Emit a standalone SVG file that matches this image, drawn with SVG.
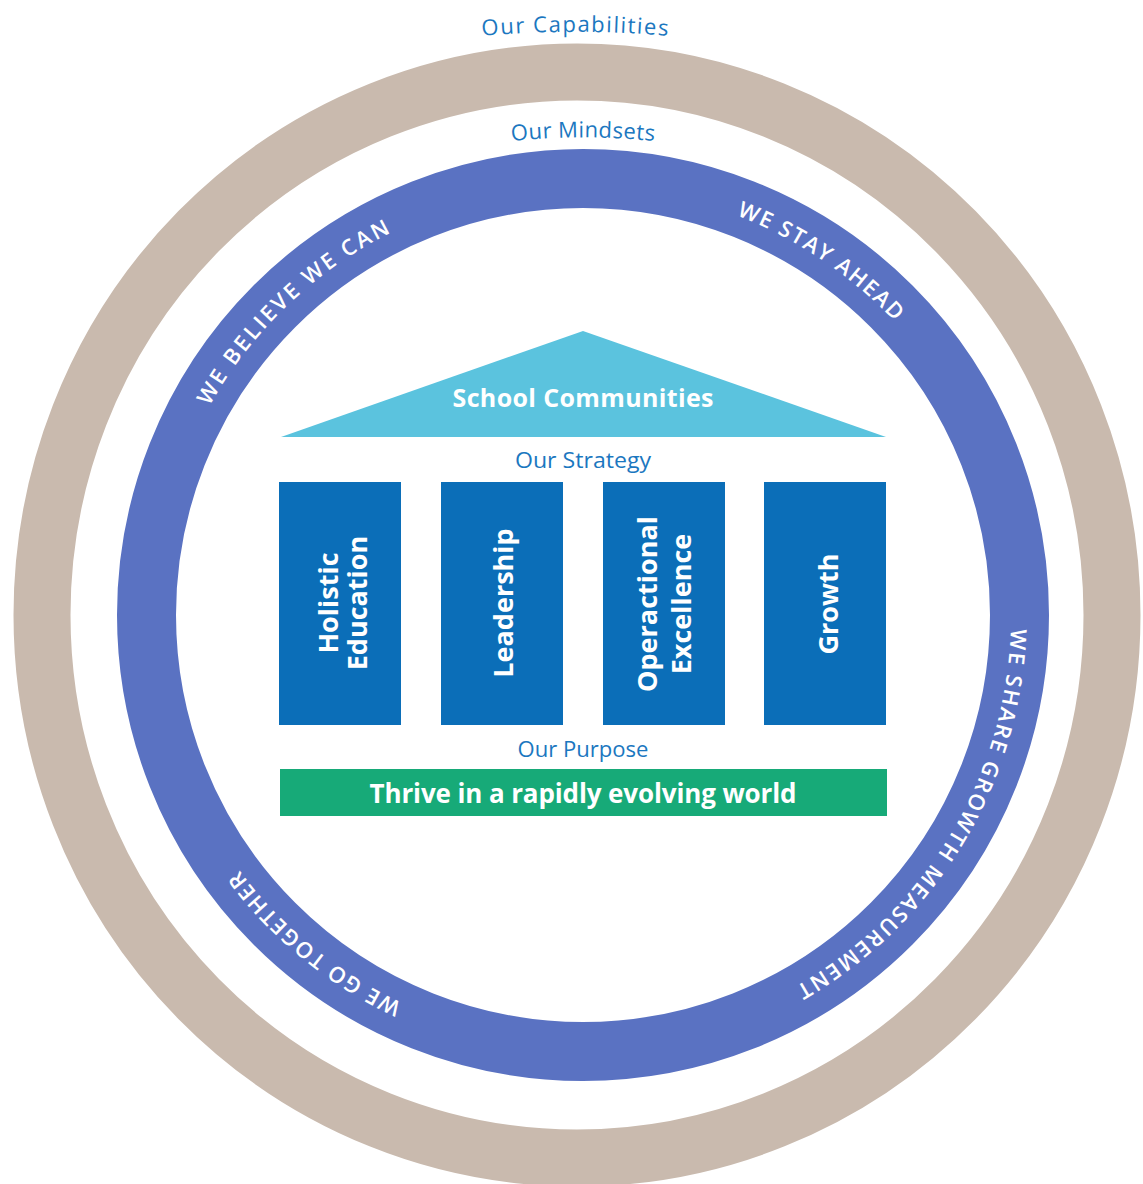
<svg xmlns="http://www.w3.org/2000/svg" width="1143" height="1184" viewBox="0 0 1143 1184">
<style>
.lbl{font-family:"Open Sans","Liberation Sans",sans-serif;font-size:22px;fill:#1B77C0;}
.ring{font-family:"Open Sans","Liberation Sans",sans-serif;font-size:22px;font-weight:600;fill:#FFFFFF;}
.pil{fill:#0B6EB8;}
.ptxt{font-family:"Open Sans","Liberation Sans",sans-serif;font-size:27px;font-weight:700;fill:#FFFFFF;}
.wbold{font-family:"Open Sans","Liberation Sans",sans-serif;font-weight:700;fill:#FFFFFF;}
</style>
<defs>
<path id="ringPath" d="M583,187 A428,428 0 1 1 583,1043 A428,428 0 1 1 583,187"/>
<path id="capPath" d="M375,50.5 A1081,1081 0 0 1 775,50.5"/>
<path id="mindPath" d="M383,166.6 A700,700 0 0 1 783,166.6"/>
</defs>
<rect width="1143" height="1184" fill="#FFFFFF"/>
<g id="capabilities-ring">
<ellipse cx="577" cy="615" rx="535" ry="543" fill="none" stroke="#C9BAAE" stroke-width="57"/>
<text class="lbl" font-size="24"><textPath href="#capPath" startOffset="50%" text-anchor="middle" textLength="186" lengthAdjust="spacing">Our Capabilities</textPath></text>
</g>
<g id="mindsets-ring">
<circle cx="583" cy="615" r="436.5" fill="none" stroke="#5A72C2" stroke-width="59"/>
<text class="lbl"><textPath href="#mindPath" startOffset="50%" text-anchor="middle" textLength="143" lengthAdjust="spacing">Our Mindsets</textPath></text>
<text class="ring"><textPath href="#ringPath" startOffset="2362" text-anchor="middle" textLength="255" lengthAdjust="spacing">WE BELIEVE WE CAN</textPath></text>
<text class="ring"><textPath href="#ringPath" startOffset="253" text-anchor="middle" textLength="192" lengthAdjust="spacing">WE STAY AHEAD</textPath></text>
<text class="ring"><textPath href="#ringPath" startOffset="904" text-anchor="middle" textLength="436" lengthAdjust="spacing">WE SHARE GROWTH MEASUREMENT</textPath></text>
<text class="ring"><textPath href="#ringPath" startOffset="1637" text-anchor="middle" textLength="212" lengthAdjust="spacing">WE GO TOGETHER</textPath></text>
</g>
<g id="school-communities">
<polygon points="281,437 583,331 886,437" fill="#5BC3DE"/>
<text class="wbold" x="583" y="407" font-size="25" text-anchor="middle" textLength="261" lengthAdjust="spacing">School Communities</text>
</g>
<g id="strategy-label">
<text class="lbl" x="583" y="468" font-size="21" text-anchor="middle" textLength="136" lengthAdjust="spacingAndGlyphs">Our Strategy</text>
</g>
<g id="pillar-holistic">
<rect class="pil" x="279" y="482" width="122" height="243"/>
<text class="ptxt" transform="translate(338,603) rotate(-90)" text-anchor="middle">Holistic</text>
<text class="ptxt" transform="translate(367,603) rotate(-90)" text-anchor="middle">Education</text>
</g>
<g id="pillar-leadership">
<rect class="pil" x="441" y="482" width="122" height="243"/>
<text class="ptxt" transform="translate(513,603) rotate(-90)" text-anchor="middle">Leadership</text>
</g>
<g id="pillar-operational">
<rect class="pil" x="603" y="482" width="122" height="243"/>
<text class="ptxt" transform="translate(657,604) rotate(-90)" text-anchor="middle">Operactional</text>
<text class="ptxt" transform="translate(691,604) rotate(-90)" text-anchor="middle">Excellence</text>
</g>
<g id="pillar-growth">
<rect class="pil" x="764" y="482" width="122" height="243"/>
<text class="ptxt" transform="translate(838,604) rotate(-90)" text-anchor="middle">Growth</text>
</g>
<g id="purpose-label">
<text class="lbl" x="583" y="757" font-size="21" text-anchor="middle" textLength="131" lengthAdjust="spacingAndGlyphs">Our Purpose</text>
</g>
<g id="purpose">
<rect x="280" y="769" width="607" height="47" fill="#17AA78"/>
<text class="wbold" x="583" y="803" font-size="26" text-anchor="middle" textLength="427" lengthAdjust="spacing">Thrive in a rapidly evolving world</text>
</g>
<g id="connectors"></g>
</svg>
